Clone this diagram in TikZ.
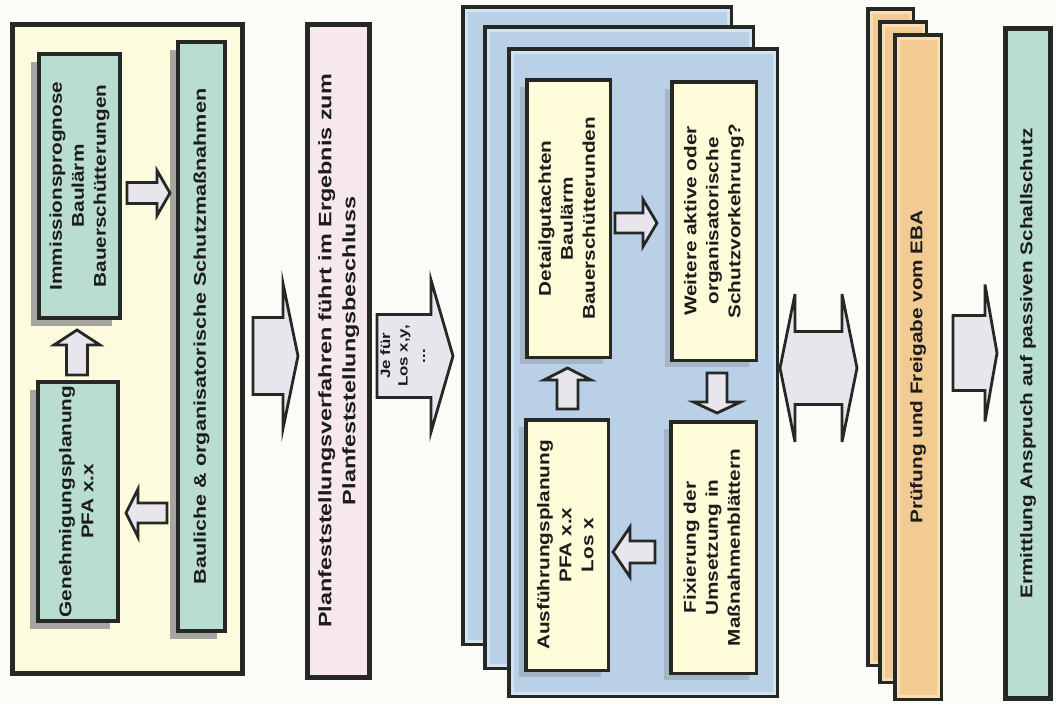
\documentclass[tikz,border=0pt]{standalone}
\usepackage{fontspec}
\setmainfont{Liberation Sans}
\usetikzlibrary{shadows}
\definecolor{bord}{HTML}{262826}
\definecolor{txt}{HTML}{1C1C1C}
\definecolor{paper}{HTML}{FCFCF8}
\definecolor{panelY}{HTML}{FDFBDD}
\definecolor{tealc}{HTML}{BADDD1}
\definecolor{pinkc}{HTML}{F7E8F0}
\definecolor{bluec}{HTML}{BAD0E6}
\definecolor{bluel}{HTML}{D3E3F1}
\definecolor{innerY}{HTML}{FFFCD9}
\definecolor{orangec}{HTML}{F2CB92}
\definecolor{orangel}{HTML}{F9DEB4}
\definecolor{shadowc}{HTML}{A6A6A0}
\definecolor{shadowb}{HTML}{A6B5C6}
\definecolor{arrfill}{HTML}{E8E6EC}
\newcommand\rt[2][1.22]{\rotatebox{90}{\scalebox{#1}[1]{\begin{tabular}{@{}c@{}}#2\end{tabular}}}}
% block arrow: cx cy angle length bodywidth headwidth headlength
\newcommand\barr[7]{%
  \draw[arr, shift={(#1,#2)}, rotate=#3]
    (-#4/2,-#5/2) -- ({#4/2-#7},-#5/2) -- ({#4/2-#7},-#6/2) -- (#4/2,0)
    -- ({#4/2-#7},#6/2) -- ({#4/2-#7},#5/2) -- (-#4/2,#5/2) -- cycle;}
% double block arrow: cx cy length bodywidth headwidth headlength
\newcommand\dbarr[6]{%
  \draw[arr, shift={(#1,#2)}]
    (-#3/2,0) -- ({-#3/2+#6},-#5/2) -- ({-#3/2+#6},-#4/2) -- ({#3/2-#6},-#4/2)
    -- ({#3/2-#6},-#5/2) -- (#3/2,0) -- ({#3/2-#6},#5/2) -- ({#3/2-#6},#4/2)
    -- ({-#3/2+#6},#4/2) -- ({-#3/2+#6},#5/2) -- cycle;}
% stacked page: name cx cy w h fill light
\newcommand\pg[7]{%
  \node[frame, fill=#6, minimum width=#4, minimum height=#5] (#1) at (#2,#3) {};
  \draw[#7, line width=3pt] ([shift={(5,5)}]#1.north west) rectangle ([shift={(-5,-5)}]#1.south east);}
\tikzset{
  frame/.style={draw=bord, line width=5pt, inner sep=0pt},
  bx/.style={draw=bord, line width=3.5pt, inner sep=0pt, text=txt,
     font=\fontsize{17}{22}\selectfont\bfseries},
  shd/.style={drop shadow={shadow xshift=-8pt, shadow yshift=-8pt, opacity=1, fill=shadowc}},
  shdb/.style={drop shadow={shadow xshift=-7pt, shadow yshift=-7pt, opacity=1, fill=shadowb}},
  arr/.style={draw=bord, fill=arrfill, line width=2.8pt, line join=miter},
}
\begin{document}
\begin{tikzpicture}[x=1pt,y=-1pt]
\useasboundingbox (0,0) rectangle (1056,704);
\fill[paper] (0,0) rectangle (1056,704);

% ---- left panel
\node[frame, fill=panelY, minimum width=230, minimum height=649] (panel) at (127.5,349) {};
\node[bx, fill=tealc, shd, minimum width=81, minimum height=264] (imm) at (79.5,186)
  {\rt{Immissionsprognose\\Baulärm\\Bauerschütterungen}};
\node[bx, fill=tealc, shd, minimum width=80, minimum height=239] (gen) at (78,501.5)
  {\rt{Genehmigungsplanung\\PFA x.x}};
\node[bx, fill=tealc, shd, minimum width=47, minimum height=589] (bau) at (201.5,336.5)
  {\rt[1.27]{Bauliche \& organisatorische Schutzmaßnahmen}};
\barr{148.5}{193}{0}{43}{21}{45}{13}
\barr{77}{352.5}{90}{45}{21}{46}{15}
\barr{146.5}{513}{180}{41}{20}{48}{12}

% ---- arrows to / from Planfeststellung
\barr{275.5}{356}{0}{45}{77}{145}{15}
\node[frame, fill=pinkc, text=txt, minimum width=62, minimum height=653,
  font=\fontsize{18}{24}\selectfont\bfseries] (pf) at (338.5,351)
  {\rt[1.3]{Planfeststellungsverfahren führt im Ergebnis zum\\Planfeststellungsbeschluss}};
\barr{415}{356}{0}{76}{83}{152}{22}
\node[text=txt, inner sep=0pt, font=\fontsize{13.5}{17.5}\selectfont\bfseries] (je) at (404,356)
  {\rt[1.25]{Je für\\Los x,y,\\...}};

% ---- blue stack
\pg{b1}{597}{325.5}{267}{636}{bluec}{bluel}
\pg{b2}{619}{347.5}{267}{640}{bluec}{bluel}
\pg{b3}{643}{372.5}{267}{646}{bluec}{bluel}
\node[bx, fill=innerY, shdb, minimum width=83.5, minimum height=277.5] (det) at (568.5,218.5)
  {\rt{Detailgutachten\\Baulärm\\Bauerschütterunden}};
\node[bx, fill=innerY, shdb, minimum width=84.5, minimum height=278.5] (wei) at (714,221)
  {\rt{Weitere aktive oder\\organisatorische\\Schutzvorkehrung?}};
\node[bx, fill=innerY, shdb, minimum width=82.5, minimum height=250.5] (aus) at (567,545)
  {\rt{Ausführungsplanung\\PFA x.x\\Los x}};
\node[bx, fill=innerY, shdb, minimum width=85.5, minimum height=251.5] (fix) at (713.5,547.5)
  {\rt{Fixierung der\\Umsetzung in\\Maßnahmenblättern}};
\barr{636}{223}{0}{42}{20}{47}{14}
\barr{717}{393}{-90}{40}{20}{47}{11}
\barr{634}{552}{180}{42}{22}{50}{17}
\barr{567.5}{388.5}{90}{41}{21}{47}{12}

% ---- double arrow
\dbarr{818.5}{368}{77}{73}{148}{15}

% ---- orange stack
\pg{o1}{890.5}{337}{44}{655}{orangec}{orangel}
\pg{o2}{903}{352}{45}{659}{orangec}{orangel}
\pg{o3}{918}{367}{45}{663}{orangec}{orangel}
\node[text=txt, font=\fontsize{17}{22}\selectfont\bfseries] (eba) at (o3.center)
  {\rt{Prüfung und Freigabe vom EBA}};

\barr{975}{353}{0}{44}{75}{137}{12}

% ---- last box
\node[frame, fill=tealc, text=txt, minimum width=45, minimum height=670,
  font=\fontsize{17}{22}\selectfont\bfseries] (erm) at (1028,363.5)
  {\rt{Ermittlung Anspruch auf passiven Schallschutz}};
\end{tikzpicture}
\end{document}
